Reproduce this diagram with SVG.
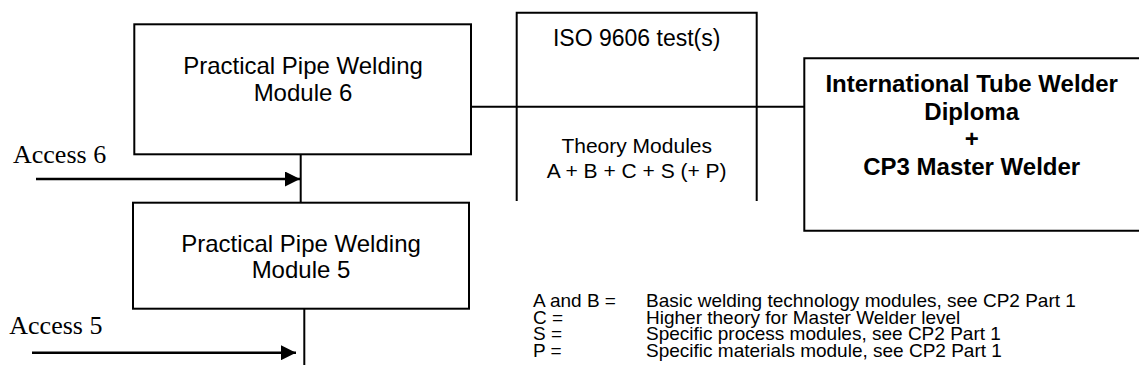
<svg xmlns="http://www.w3.org/2000/svg" width="1139" height="383" viewBox="0 0 1139 383">
<defs>
<style>
.box{fill:none;stroke:#000;stroke-width:2}
.ln{fill:none;stroke:#000;stroke-width:2}
.arw{fill:none;stroke:#000;stroke-width:2.5}
.t{font-family:"Liberation Sans",Arial,sans-serif;fill:#000;text-anchor:middle}
.b{font-weight:bold}
.acc{font-family:"Liberation Serif","Times New Roman",serif;font-size:26px;fill:#000}
.lg{font-family:"Liberation Sans",Arial,sans-serif;font-size:19px;fill:#000}
</style>
<marker id="ah" viewBox="0 0 10 10" refX="10" refY="5" markerWidth="15" markerHeight="15" markerUnits="userSpaceOnUse" orient="auto">
<path d="M0,0 L10,5 L0,10 Z" fill="#000"/>
</marker>
</defs>
<rect width="1139" height="383" fill="#fff"/>
<g id="connectors">
<line class="ln" x1="471" y1="106.7" x2="804" y2="106.7"/>
<line class="ln" x1="300.7" y1="154" x2="300.7" y2="203"/>
<line class="ln" x1="304.3" y1="308" x2="304.3" y2="365"/>
<line class="arw" x1="36" y1="179" x2="300" y2="179" marker-end="url(#ah)"/>
<line class="arw" x1="32" y1="352.7" x2="296" y2="352.7" marker-end="url(#ah)"/>
</g>
<g id="module6">
<rect class="box" x="134.3" y="24.3" width="336.7" height="130"/>
<text class="t" x="303" y="74" font-size="24">Practical Pipe Welding</text>
<text class="t" x="303" y="100.7" font-size="24">Module 6</text>
</g>
<g id="module5">
<rect class="box" x="133" y="202.7" width="336" height="106"/>
<text class="t" x="301" y="251.7" font-size="24">Practical Pipe Welding</text>
<text class="t" x="301" y="278.3" font-size="24">Module 5</text>
</g>
<g id="access6">
<text class="acc" x="13" y="163.3">Access 6</text>
</g>
<g id="access5">
<text class="acc" x="9.3" y="334.3">Access 5</text>
</g>
<g id="tests">
<path class="box" d="M516.7,201 V12.7 H756.7 V201"/>
<text class="t" x="636.7" y="46" font-size="23">ISO 9606 test(s)</text>
<text class="t" x="636.7" y="153.3" font-size="21">Theory Modules</text>
<text class="t" x="636.7" y="178.3" font-size="21">A + B + C + S (+ P)</text>
</g>
<g id="diploma">
<path class="box" d="M1141,58.3 H804.3 V230.7 H1141"/>
<text class="t b" x="971.7" y="92" font-size="24">International Tube Welder</text>
<text class="t b" x="971.7" y="119.5" font-size="24">Diploma</text>
<text class="t b" x="971.7" y="147" font-size="24">+</text>
<text class="t b" x="971.7" y="174.5" font-size="24">CP3 Master Welder</text>
</g>
<g id="legend">
<text class="lg"><tspan x="533" y="307">A and B =</tspan><tspan x="533" y="323.5">C =</tspan><tspan x="533" y="340">S =</tspan><tspan x="533" y="356.5">P =</tspan></text>
<text class="lg"><tspan x="646" y="307">Basic welding technology modules, see CP2 Part 1</tspan><tspan x="646" y="323.5">Higher theory for Master Welder level</tspan><tspan x="646" y="340">Specific process modules, see CP2 Part 1</tspan><tspan x="646" y="356.5">Specific materials module, see CP2 Part 1</tspan></text>
</g>
</svg>
